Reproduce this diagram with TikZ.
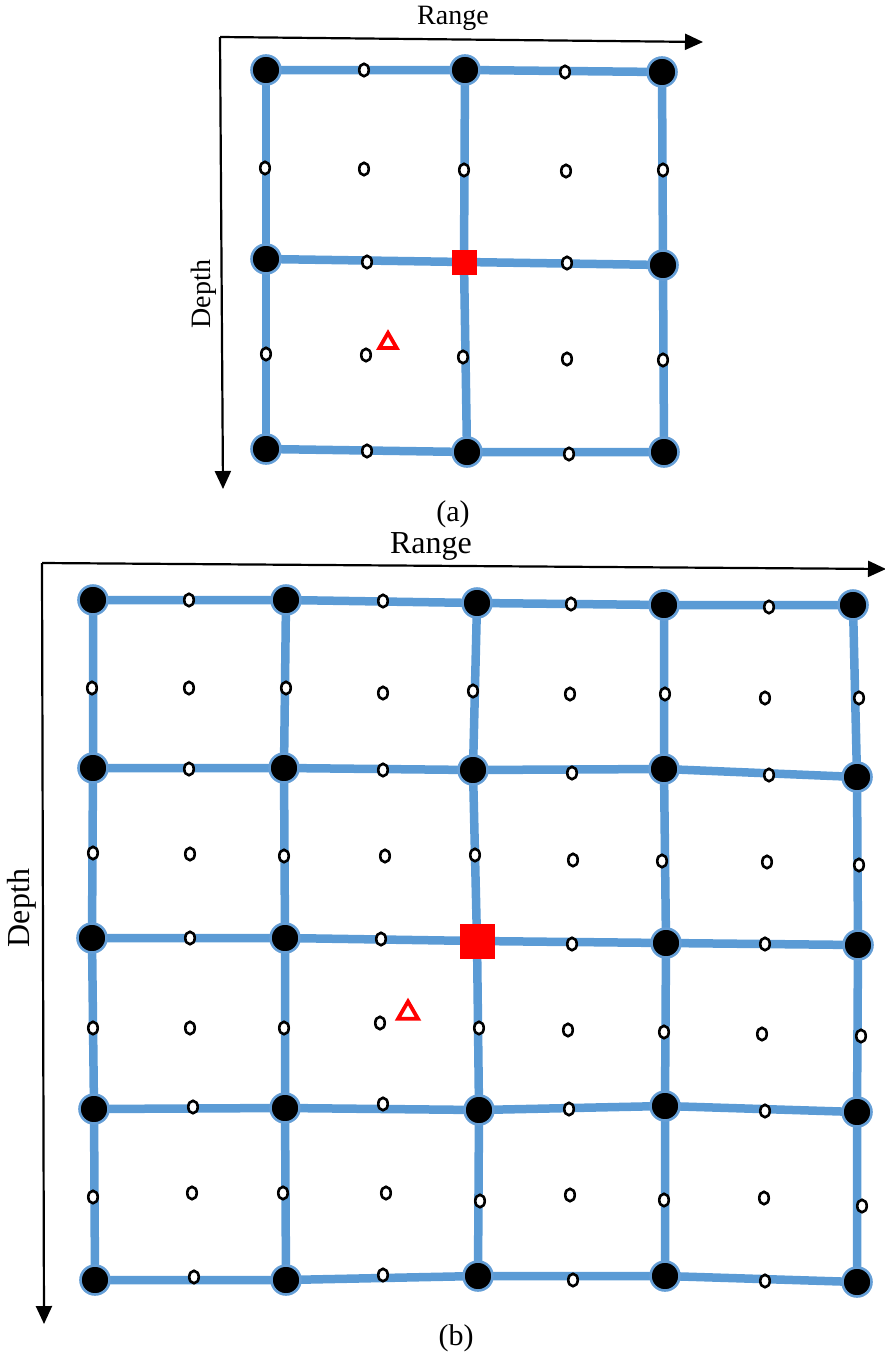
\documentclass[tikz,border=0pt]{standalone}
\usepackage{fontspec}
\setmainfont{Liberation Serif}
\usetikzlibrary{shapes.geometric,arrows.meta,backgrounds}
\definecolor{gridblue}{RGB}{91,155,213}
\definecolor{halo}{RGB}{100,158,214}
\tikzset{
  bignode/.style={circle,fill=black,draw=halo,line width=2.6pt,minimum size=29pt,inner sep=0pt},
  smallnode/.style={ellipse,draw=black,fill=white,line width=2.6pt,minimum width=9.5pt,minimum height=12.5pt,inner sep=0pt},
  sqnode/.style={rectangle,fill=red,inner sep=0pt},
  trinode/.style={regular polygon,regular polygon sides=3,draw=red,line width=3.8pt,inner sep=0pt},
  gridline/.style={draw=gridblue,line width=8.5pt},
  axisline/.style={line width=2.2pt,-{Triangle[length=18pt,width=16pt]}},
  lbl/.style={font=\fontsize{28}{32}\selectfont,inner sep=0pt},
  biglbl/.style={font=\fontsize{32}{36}\selectfont,inner sep=0pt},
  caplbl/.style={font=\fontsize{30}{34}\selectfont,inner sep=0pt}
}
\begin{document}
\begin{tikzpicture}[x=1pt,y=-1pt]
\useasboundingbox (0,0) rectangle (885,1360);

% ---------------- (a) ----------------
\coordinate (aO) at (220,37);
\coordinate (aX) at (703,42);
\coordinate (aY) at (223,489);
\draw[axisline] (aO) -- (aX);
\draw[axisline] (aO) -- (aY);
\node[lbl] (aRange) at (453,18) {Range};
\node[lbl,rotate=90] (aDepth) at (204,294) {Depth};
\node[caplbl] (aCap) at (453,514) {(a)};

\foreach \n/\x/\y in {00/266/70,01/465/70,02/662/72,
                      10/266/259,12/663/265,
                      20/266/449,21/467/452,22/664/452}
  \node[bignode] (A\n) at (\x,\y) {};
\node[sqnode,minimum size=25pt] (A11) at (464,262) {};

\foreach \x/\y [count=\i] in {364/70,565/72,367/262,567/263,367/451,569/454,
   265/168,364/169,464/170,566/171,663/170,
   266/354,366/355,463/357,567/359,663/360}
  \node[smallnode] (as\i) at (\x,\y) {};
\node[trinode,minimum size=20pt] (atri) at (388,343) {};

\begin{scope}[on background layer]
  \foreach \rr in {0,1,2}
    \draw[gridline] (A\rr0.center) -- (A\rr1.center) -- (A\rr2.center);
  \foreach \cc in {0,1,2}
    \draw[gridline] (A0\cc.center) -- (A1\cc.center) -- (A2\cc.center);
\end{scope}

% ---------------- (b) ----------------
\coordinate (bO) at (42,563);
\coordinate (bX) at (886,569);
\coordinate (bY) at (44,1324);
\draw[axisline] (bO) -- (bX);
\draw[axisline] (bO) -- (bY);
\node[biglbl] (bRange) at (431,546) {Range};
\node[biglbl,rotate=90] (bDepth) at (22,908) {Depth};
\node[caplbl] (bCap) at (456,1338) {(b)};

\foreach \n/\x/\y in {00/93/600,01/286/600,02/477/603,03/664/605,04/853/605,
                      10/93/768,11/284/768,12/473/770,13/664/769,14/857/777,
                      20/92/938,21/285/938,23/666/943,24/858/945,
                      30/94/1109,31/285/1108,32/479/1110,33/665/1106,34/857/1112,
                      40/95/1280,41/286/1280,42/478/1276,43/665/1276,44/857/1282}
  \node[bignode] (B\n) at (\x,\y) {};
\node[sqnode,minimum size=35pt] (B22) at (477,941) {};

\foreach \x/\y [count=\i] in {
   189/600,383/601,571/604,769/607,
   189/769,383/770,572/773,769/775,
   190/938,381/939,572/944,765/944,
   193/1107,383/1104,569/1109,765/1111,
   194/1277,383/1275,573/1280,765/1281,
   92/688,189/688,286/688,383/693,473/691,570/694,665/694,765/698,859/698,
   93/853,190/854,284/856,385/856,475/855,573/860,662/861,767/862,859/865,
   93/1028,190/1028,284/1028,380/1023,479/1028,568/1030,664/1032,762/1034,861/1036,
   93/1197,192/1193,283/1193,386/1193,480/1201,570/1195,664/1200,764/1198,862/1206}
  \node[smallnode] (bs\i) at (\x,\y) {};
\node[trinode,minimum size=23pt] (btri) at (408,1013) {};

\begin{scope}[on background layer]
  \foreach \rr in {0,1,2,3,4}
    \draw[gridline] (B\rr0.center) -- (B\rr1.center) -- (B\rr2.center) -- (B\rr3.center) -- (B\rr4.center);
  \foreach \cc in {0,1,2,3,4}
    \draw[gridline] (B0\cc.center) -- (B1\cc.center) -- (B2\cc.center) -- (B3\cc.center) -- (B4\cc.center);
\end{scope}
\end{tikzpicture}
\end{document}
